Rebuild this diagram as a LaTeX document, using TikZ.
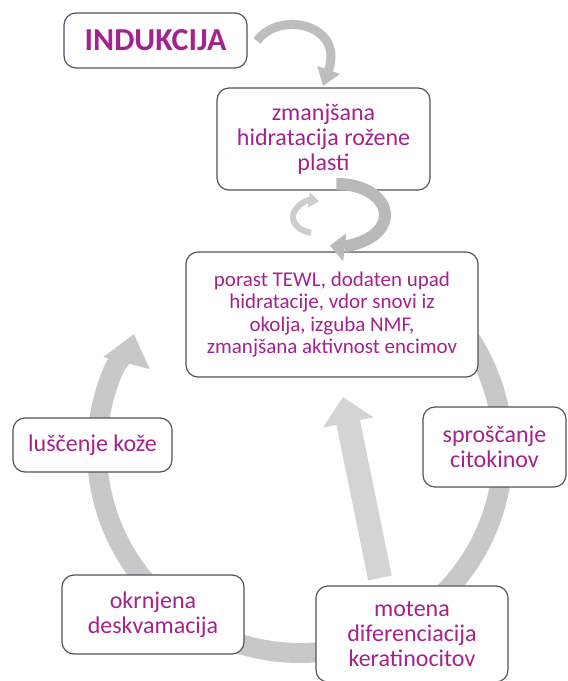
\documentclass[tikz,border=0pt]{standalone}
\usepackage{fontspec}
\setmainfont{Carlito}
\usetikzlibrary{arrows.meta,calc}
\pgfdeclarelayer{background}
\pgfsetlayers{background,main}
\definecolor{txt}{RGB}{163,35,142}
\definecolor{bord}{RGB}{80,84,96}
\definecolor{ringc}{RGB}{200,200,200}
\definecolor{arrc}{RGB}{212,212,212}
\definecolor{indarr}{RGB}{190,190,190}
\definecolor{cycbig}{RGB}{185,185,185}
\definecolor{cycsmall}{RGB}{205,205,205}
\begin{document}
\begin{tikzpicture}[x=1pt,y=-1pt,
  box/.style={draw=bord, line width=1.2pt, fill=white, rounded corners=12pt,
    text=txt, align=center, inner sep=0pt},
  fbig/.style={font=\fontsize{24}{25}\selectfont},
  fsmall/.style={font=\fontsize{21}{22.5}\selectfont},
  ringarrow/.style={line width=20pt, draw=ringc, -{Triangle[width=46pt,length=30pt]}},
  stemarrow/.style={line width=24pt, draw=arrc, -{Triangle[width=50pt,length=26pt]}},
  indarrow/.style={line width=9pt, draw=indarr, -{Triangle[width=23pt,length=17pt]}},
  cycbigarrow/.style={line width=12pt, draw=cycbig, -{Triangle[width=27pt,length=15pt]}},
  cycsmallarrow/.style={line width=6pt, draw=cycsmall, -{Triangle[width=15pt,length=10pt]}}
]
\useasboundingbox (0,0) rectangle (568,681);

% boxes
\node[box, minimum width=183pt, minimum height=55pt,
  font=\fontsize{32}{34}\selectfont\bfseries] (ind) at (155.5,40.5) {INDUKCIJA};
\node[box, fbig, minimum width=213pt, minimum height=102pt] (zm) at (323.5,139)
  {zmanjšana\\hidratacija rožene\\plasti};
\node[box, fsmall, minimum width=292pt, minimum height=125pt] (por) at (332,314.5)
  {porast TEWL, dodaten upad\\hidratacije, vdor snovi iz\\okolja, izguba NMF,\\zmanjšana aktivnost encimov};
\node[box, fbig, minimum width=159pt, minimum height=54pt] (lus) at (92.5,445) {luščenje kože};
\node[box, fbig, minimum width=143pt, minimum height=80pt] (spr) at (494.5,447) {sproščanje\\citokinov};
\node[box, fbig, minimum width=182pt, minimum height=79pt] (okr) at (153,614.5) {okrnjena\\deskvamacija};
\node[box, fbig, minimum width=192pt, minimum height=96pt] (mot) at (412,634) {motena\\diferenciacija\\keratinocitov};

% connector points
\coordinate (rc) at (300,450);
\coordinate (rtip) at (134,334);
\coordinate (s1) at (380,578);
\coordinate (s2) at (343,397);
\coordinate (i1) at (257,41);
\coordinate (i2) at (323,86);
\coordinate (cb) at (338,215);
\coordinate (cs) at (315,217);

\begin{pgfonlayer}{background}
  \fill[white] (0,0) rectangle (568,681);
  \draw[ringarrow] ($(rc)+(-40:203)$) arc[start angle=-40, end angle=203, radius=203]
    .. controls (117.8,359.6) and (131,345.6) .. (rtip);
  \draw[stemarrow] (s1) -- (s2);
  \draw[indarrow] (i1) .. controls (279,10) and (345,24) .. (i2);
  \draw[cycsmallarrow] ($(cs)+(100:22 and 16)$) arc[start angle=100, end angle=280, x radius=22, y radius=16];
\end{pgfonlayer}
\draw[cycbigarrow] ($(cb)+(-92:47 and 31)$) arc[start angle=-92, end angle=100, x radius=47, y radius=31];
\end{tikzpicture}
\end{document}
